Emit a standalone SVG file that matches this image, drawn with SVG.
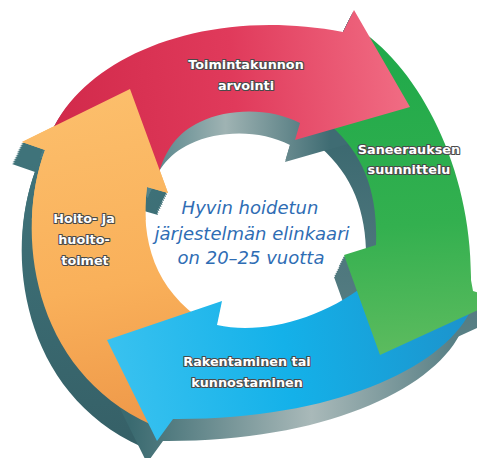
<svg xmlns="http://www.w3.org/2000/svg" xmlns:xlink="http://www.w3.org/1999/xlink" width="477" height="458" viewBox="0 0 477 458">
<style>
.lbl{font-family:"DejaVu Sans","Liberation Sans",sans-serif;font-size:12.8px;font-weight:bold;fill:#fff;stroke:#4a4a4a;stroke-width:2.2px;stroke-linejoin:round;paint-order:stroke;text-anchor:middle}
.ctr{font-family:"DejaVu Sans","Liberation Sans",sans-serif;font-size:18px;font-style:italic;fill:#2f6db4;text-anchor:middle}
</style>
<defs>
<path id="pR" d="M50,136 C80,60 200,5 343,32 L354,10 L410,107 L295,140 L300,123 C270,108 230,108 200,122 C178,132 165,150 158,176 L110,143 Z"/>
<path id="pG" d="M360,30 C420,70 472,170 471,280 L473,291 L500,300 L380,355 L344,255 L376,245 C378,195 365,155 330,125 L352,85 Z"/>
<path id="pB" d="M107,340 L222,301 L217,325 C260,335 320,320 365,285 L410,305 L470,312 C440,370 330,420 173,419 L157,441 Z"/>
<path id="pO" d="M130,89 L168,193 L147,187 C140,240 155,290 205,322 L165,350 L152,425 C30,370 15,230 45,150 L22,142 Z"/>
<linearGradient id="gR" gradientUnits="userSpaceOnUse" x1="60" y1="120" x2="410" y2="90">
<stop offset="0" stop-color="#d22a4b"/><stop offset="0.5" stop-color="#e03a5b"/><stop offset="1" stop-color="#f16d84"/>
</linearGradient>
<linearGradient id="gG" gradientUnits="userSpaceOnUse" x1="380" y1="40" x2="400" y2="350">
<stop offset="0" stop-color="#1fa94a"/><stop offset="0.6" stop-color="#33b04f"/><stop offset="1" stop-color="#5bbb5e"/>
</linearGradient>
<linearGradient id="gB" gradientUnits="userSpaceOnUse" x1="100" y1="380" x2="470" y2="320">
<stop offset="0" stop-color="#3cc3f0"/><stop offset="0.5" stop-color="#14b1e9"/><stop offset="1" stop-color="#1c93cc"/>
</linearGradient>
<linearGradient id="gO" gradientUnits="userSpaceOnUse" x1="60" y1="90" x2="120" y2="420">
<stop offset="0" stop-color="#fcbf6c"/><stop offset="0.6" stop-color="#f9b05a"/><stop offset="1" stop-color="#ef9a4a"/>
</linearGradient>
<linearGradient id="gRx" gradientUnits="userSpaceOnUse" x1="150" y1="0" x2="340" y2="0">
<stop offset="0" stop-color="#4a7d84"/><stop offset="0.45" stop-color="#9fb3b3"/><stop offset="1" stop-color="#3f6c73"/>
</linearGradient>
<linearGradient id="gGx" gradientUnits="userSpaceOnUse" x1="0" y1="120" x2="0" y2="360">
<stop offset="0" stop-color="#3c6970"/><stop offset="1" stop-color="#5f858a"/>
</linearGradient>
<linearGradient id="gBx" gradientUnits="userSpaceOnUse" x1="140" y1="0" x2="470" y2="0">
<stop offset="0" stop-color="#3a6a70"/><stop offset="0.55" stop-color="#a9b9b9"/><stop offset="1" stop-color="#557d83"/>
</linearGradient>
<linearGradient id="gOx" gradientUnits="userSpaceOnUse" x1="0" y1="140" x2="0" y2="440">
<stop offset="0" stop-color="#3f737a"/><stop offset="1" stop-color="#355f66"/>
</linearGradient>
<clipPath id="topClip"><rect x="0" y="70" width="200" height="150"/></clipPath>
</defs>
<rect width="477" height="458" fill="#fff"/>
<g id="connectors"></g>
<g id="extrusions">
<g fill="url(#gOx)">
<use xlink:href="#pO" transform="translate(-1,2)"/><use xlink:href="#pO" transform="translate(-2,4)"/><use xlink:href="#pO" transform="translate(-3,6)"/><use xlink:href="#pO" transform="translate(-4,8)"/><use xlink:href="#pO" transform="translate(-5,10)"/><use xlink:href="#pO" transform="translate(-5.5,12)"/><use xlink:href="#pO" transform="translate(-6.5,14)"/><use xlink:href="#pO" transform="translate(-7.5,16)"/><use xlink:href="#pO" transform="translate(-8.5,18)"/><use xlink:href="#pO" transform="translate(-9.5,20)"/><use xlink:href="#pO" transform="translate(-10,22)"/>
</g>
<g fill="url(#gBx)">
<use xlink:href="#pB" transform="translate(-1,2)"/><use xlink:href="#pB" transform="translate(-2,4)"/><use xlink:href="#pB" transform="translate(-3,6)"/><use xlink:href="#pB" transform="translate(-4,8)"/><use xlink:href="#pB" transform="translate(-5,10)"/><use xlink:href="#pB" transform="translate(-5.5,12)"/><use xlink:href="#pB" transform="translate(-6.5,14)"/><use xlink:href="#pB" transform="translate(-7.5,16)"/><use xlink:href="#pB" transform="translate(-8.5,18)"/><use xlink:href="#pB" transform="translate(-9.5,20)"/><use xlink:href="#pB" transform="translate(-10,22)"/>
</g>
<g fill="url(#gGx)">
<use xlink:href="#pG" transform="translate(-1,2)"/><use xlink:href="#pG" transform="translate(-2,4)"/><use xlink:href="#pG" transform="translate(-3,6)"/><use xlink:href="#pG" transform="translate(-4,8)"/><use xlink:href="#pG" transform="translate(-5,10)"/><use xlink:href="#pG" transform="translate(-5.5,12)"/><use xlink:href="#pG" transform="translate(-6.5,14)"/><use xlink:href="#pG" transform="translate(-7.5,16)"/><use xlink:href="#pG" transform="translate(-8.5,18)"/><use xlink:href="#pG" transform="translate(-9.5,20)"/><use xlink:href="#pG" transform="translate(-10,22)"/>
</g>
<g fill="url(#gRx)">
<use xlink:href="#pR" transform="translate(-1,2)"/><use xlink:href="#pR" transform="translate(-2,4)"/><use xlink:href="#pR" transform="translate(-3,6)"/><use xlink:href="#pR" transform="translate(-4,8)"/><use xlink:href="#pR" transform="translate(-5,10)"/><use xlink:href="#pR" transform="translate(-5.5,12)"/><use xlink:href="#pR" transform="translate(-6.5,14)"/><use xlink:href="#pR" transform="translate(-7.5,16)"/><use xlink:href="#pR" transform="translate(-8.5,18)"/><use xlink:href="#pR" transform="translate(-9.5,20)"/><use xlink:href="#pR" transform="translate(-10,22)"/>
</g>
</g>
<g id="node-hoito">
<use xlink:href="#pO" fill="url(#gO)"/>
</g>
<g id="node-rakentaminen">
<use xlink:href="#pB" fill="url(#gB)"/>
<text class="lbl" x="247" y="366">Rakentaminen tai</text>
<text class="lbl" x="247" y="387">kunnostaminen</text>
</g>
<g id="node-saneeraus">
<use xlink:href="#pG" fill="url(#gG)"/>
<text class="lbl" x="409" y="154">Saneerauksen</text>
<text class="lbl" x="409" y="174">suunnittelu</text>
</g>
<g id="node-toimintakunto">
<use xlink:href="#pR" fill="url(#gR)"/>
<text class="lbl" x="246" y="69">Toimintakunnon</text>
<text class="lbl" x="246" y="90">arvointi</text>
</g>
<g id="node-hoito-head">
<use xlink:href="#pO" fill="url(#gO)" clip-path="url(#topClip)"/>
<text class="lbl" x="84" y="223">Hoito- ja</text>
<text class="lbl" x="84" y="244">huolto-</text>
<text class="lbl" x="85" y="265">toimet</text>
</g>
<g id="center">
<text class="ctr" x="250" y="214">Hyvin hoidetun</text>
<text class="ctr" x="252" y="240">järjestelmän elinkaari</text>
<text class="ctr" x="251" y="264">on 20–25 vuotta</text>
</g>
</svg>
